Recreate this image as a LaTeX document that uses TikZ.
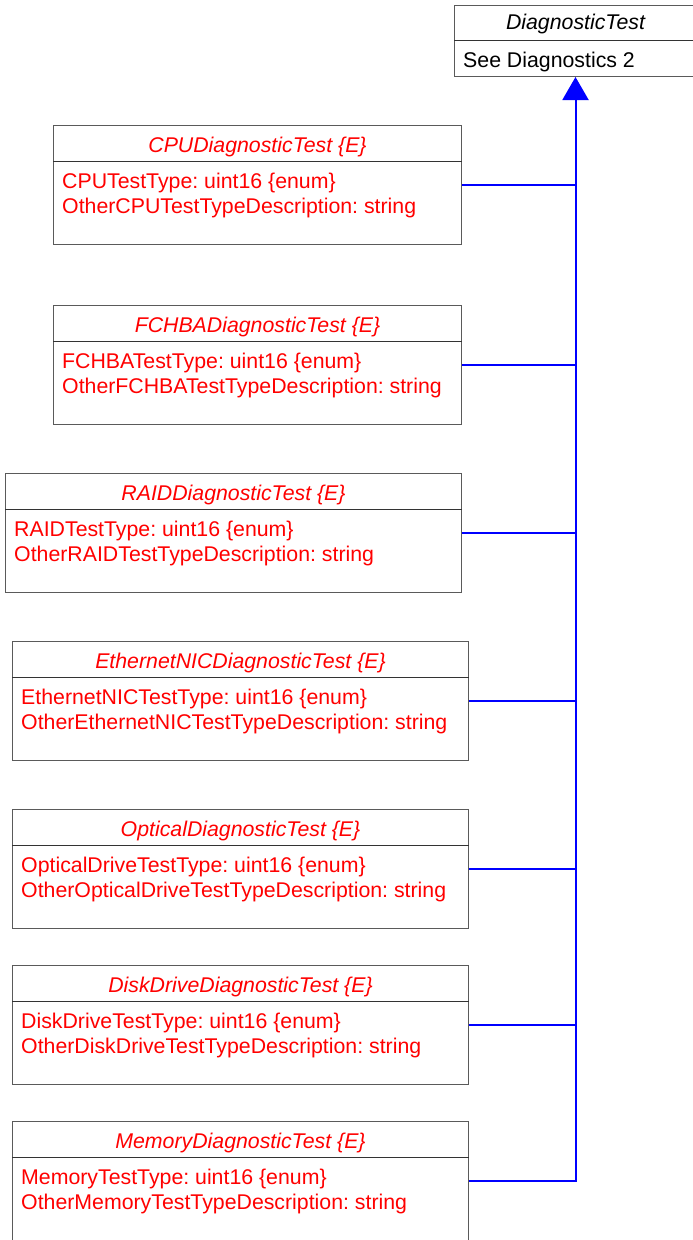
\documentclass[tikz,border=0pt]{standalone}
\usepackage{fontspec}
\setmainfont{Liberation Sans}
\usetikzlibrary{arrows.meta}
\frenchspacing
\definecolor{umlred}{RGB}{255,0,0}
\definecolor{umlblue}{RGB}{0,0,255}
\definecolor{umlgray}{RGB}{90,90,90}
\tikzset{
 classbox/.style={draw=umlgray, line width=1pt, inner sep=0pt, anchor=north west},
 divline/.style={draw=black!80, line width=1pt},
 titletext/.style={font=\fontsize{21.3}{24}\selectfont\itshape, text=umlred, inner sep=0pt, anchor=base},
 attrtext/.style={font=\fontsize{21.3}{24}\selectfont, text=umlred, inner sep=0pt, anchor=base west},
 genline/.style={draw=umlblue, line width=2pt},
}
\newcommand\umlclass[7]{%
 \node[classbox, minimum width=#4pt, minimum height=119pt] (#1) at (#2,#3) {};
 \draw[divline] ([yshift=-36pt]#1.north west) -- ([yshift=-36pt]#1.north east);
 \node[titletext] (#1-t) at ([yshift=-27pt]#1.north) {#5};
 \node[attrtext] (#1-a) at ([xshift=9pt,yshift=-63.5pt]#1.north west) {#6};
 \node[attrtext] (#1-b) at ([xshift=9pt,yshift=-88.5pt]#1.north west) {#7};
 \coordinate (#1-c) at ([yshift=-60pt]#1.north east);
}
\begin{document}
\begin{tikzpicture}[x=1pt,y=-1pt]
\useasboundingbox (0,0) rectangle (693,1240);
% superclass
\node[classbox, minimum width=242pt, minimum height=71pt] (diag) at (454,5) {};
\draw[divline] ([yshift=-35pt]diag.north west) -- ([yshift=-35pt]diag.north east);
\node[titletext, text=black] (diag-t) at ([yshift=-24.5pt]diag.north) {DiagnosticTest};
\node[attrtext, text=black] (diag-a) at ([xshift=9pt,yshift=-62.5pt]diag.north west) {See Diagnostics 2};
% subclasses
\umlclass{cpu}{53}{125}{408}{CPUDiagnosticTest \{E\}}{CPUTestType: uint16 \{enum\}}{OtherCPUTestTypeDescription: string}
\umlclass{fchba}{53}{305}{408}{FCHBADiagnosticTest \{E\}}{FCHBATestType: uint16 \{enum\}}{OtherFCHBATestTypeDescription: string}
\umlclass{raid}{5}{473}{456}{RAIDDiagnosticTest \{E\}}{RAIDTestType: uint16 \{enum\}}{OtherRAIDTestTypeDescription: string}
\umlclass{eth}{12}{641}{456}{EthernetNICDiagnosticTest \{E\}}{EthernetNICTestType: uint16 \{enum\}}{OtherEthernetNICTestTypeDescription: string}
\umlclass{opt}{12}{809}{456}{OpticalDiagnosticTest \{E\}}{OpticalDriveTestType: uint16 \{enum\}}{OtherOpticalDriveTestTypeDescription: string}
\umlclass{disk}{12}{965}{456}{DiskDriveDiagnosticTest \{E\}}{DiskDriveTestType: uint16 \{enum\}}{OtherDiskDriveTestTypeDescription: string}
\umlclass{mem}{12}{1121}{456}{MemoryDiagnosticTest \{E\}}{MemoryTestType: uint16 \{enum\}}{OtherMemoryTestTypeDescription: string}
% generalization
\draw[genline, line join=miter, -{Triangle[width=26pt,length=23pt]}] (mem-c) -- (diag.south |- mem-c) -- (diag.south);
\foreach \c in {cpu,fchba,raid,eth,opt,disk}{
  \draw[genline] (\c-c) -- (diag.south |- \c-c);
}
\end{tikzpicture}
\end{document}
